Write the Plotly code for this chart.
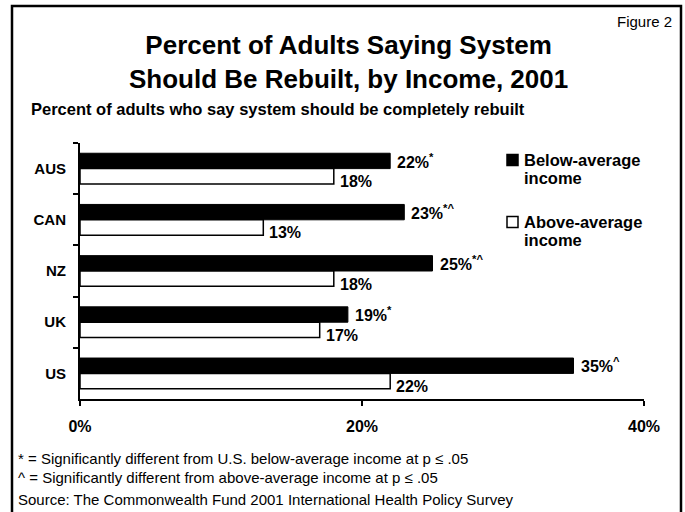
import plotly.graph_objects as go

# ---- data ----
countries = ["AUS", "CAN", "NZ", "UK", "US"]
below_avg = [22, 23, 25, 19, 35]
above_avg = [18, 13, 18, 17, 22]
below_marks = ["*", "*^", "*^", "*", "^"]
x_tick_vals = [0, 20, 40]
x_tick_text = ["0%", "20%", "40%"]

title_text = "Percent of Adults Saying System<br>Should Be Rebuilt, by Income, 2001"
subtitle_text = "Percent of adults who say system should be completely rebuilt"
notes = [
    "* = Significantly different from U.S. below-average income at p \u2264 .05",
    "^ = Significantly different from above-average income at p \u2264 .05",
    "Source: The Commonwealth Fund 2001 International Health Policy Survey",
]

FONT = "Liberation Sans, Arial, Helvetica, sans-serif"
W, H = 685, 512
L, R, T, B = 80, 41, 143, 113
PW, PH = W - L - R, H - T - B


def px(x):
    return (x - L) / PW


def py(y):
    return (H - B - y) / PH


fig = go.Figure()
fig.add_trace(go.Bar(
    y=countries, x=below_avg, orientation="h", name="Below-average income",
    marker=dict(color="black", line=dict(color="black", width=1)),
    showlegend=False, hoverinfo="x+y",
))
fig.add_trace(go.Bar(
    y=countries, x=above_avg, orientation="h", name="Above-average income",
    marker=dict(color="white", line=dict(color="black", width=1.5)),
    showlegend=False, hoverinfo="x+y",
))

ann = []
lab_font = dict(family=FONT, size=16, color="black", weight="bold")
for c, v, m in zip(countries, below_avg, below_marks):
    ann.append(dict(x=v, y=c, xref="x", yref="y", text=f"{v}%<sup>{m}</sup>",
                    showarrow=False, xanchor="left", yanchor="middle",
                    xshift=5, yshift=8, font=lab_font))
for c, v in zip(countries, above_avg):
    ann.append(dict(x=v, y=c, xref="x", yref="y", text=f"{v}%",
                    showarrow=False, xanchor="left", yanchor="middle",
                    xshift=4, yshift=-13, font=lab_font))

# titles
ann.append(dict(x=px(348), y=py(62), xref="paper", yref="paper", text=title_text,
                showarrow=False, xanchor="center", yanchor="middle",
                font=dict(family=FONT, size=26, color="black", weight="bold")))
ann.append(dict(x=px(29), y=py(109), xref="paper", yref="paper", text=subtitle_text,
                showarrow=False, xanchor="left", yanchor="middle",
                font=dict(family=FONT, size=16.5, color="black", weight="bold")))
ann.append(dict(x=px(674), y=py(21), xref="paper", yref="paper", text="Figure 2",
                showarrow=False, xanchor="right", yanchor="middle",
                font=dict(family=FONT, size=15, color="black")))

# footnotes
for yy, t in zip([458, 477, 499], notes):
    ann.append(dict(x=px(16), y=py(yy), xref="paper", yref="paper", text=t,
                    showarrow=False, xanchor="left", yanchor="middle",
                    font=dict(family=FONT, size=15, color="black")))

# legend (custom)
leg_font = dict(family=FONT, size=16.5, color="black", weight="bold")
legend_items = [("Below-average", "income", "black", 160),
                ("Above-average", "income", "white", 222)]
shapes = []
for l1, l2, col, yy in legend_items:
    shapes.append(dict(type="rect", xref="paper", yref="paper",
                       x0=px(507), x1=px(518), y0=py(yy - 5.5), y1=py(yy + 5.5),
                       fillcolor=col, line=dict(color="black", width=1.5)))
    ann.append(dict(x=px(522), y=py(yy), xref="paper", yref="paper", text=l1,
                    showarrow=False, xanchor="left", yanchor="middle", font=leg_font))
    ann.append(dict(x=px(522), y=py(yy + 18), xref="paper", yref="paper", text=l2,
                    showarrow=False, xanchor="left", yanchor="middle", font=leg_font))

# frame border
shapes.append(dict(type="rect", xref="paper", yref="paper",
                   x0=px(12), x1=px(681), y0=py(530), y1=py(6),
                   line=dict(color="black", width=2.5), fillcolor="rgba(0,0,0,0)"))

fig.update_layout(
    width=W, height=H,
    margin=dict(l=L, r=R, t=T, b=B, pad=0),
    paper_bgcolor="white", plot_bgcolor="white",
    barmode="group", bargap=0.4, bargroupgap=0,
    showlegend=False,
    annotations=ann, shapes=shapes,
    font=dict(family=FONT, color="black"),
)
fig.update_xaxes(
    range=[0, 40], tickvals=x_tick_vals, ticktext=x_tick_text,
    ticks="outside", ticklen=5, tickwidth=2, tickcolor="black",
    showline=True, linecolor="black", linewidth=2,
    showgrid=False, zeroline=False, ticklabelstandoff=7,
    tickfont=dict(family=FONT, size=16, color="black", weight="bold"),
)
fig.update_yaxes(
    type="category", categoryorder="array", categoryarray=countries,
    autorange="reversed", tickson="boundaries",
    ticks="outside", ticklen=5, tickwidth=2, tickcolor="black",
    showline=True, linecolor="black", linewidth=2,
    showgrid=False, zeroline=False, ticklabelstandoff=9,
    tickfont=dict(family=FONT, size=15, color="black", weight="bold"),
)

fig.write_html("out.html",
               config={"displayModeBar": False},
               post_script="document.body.style.margin='0';document.body.style.overflow='hidden';")
